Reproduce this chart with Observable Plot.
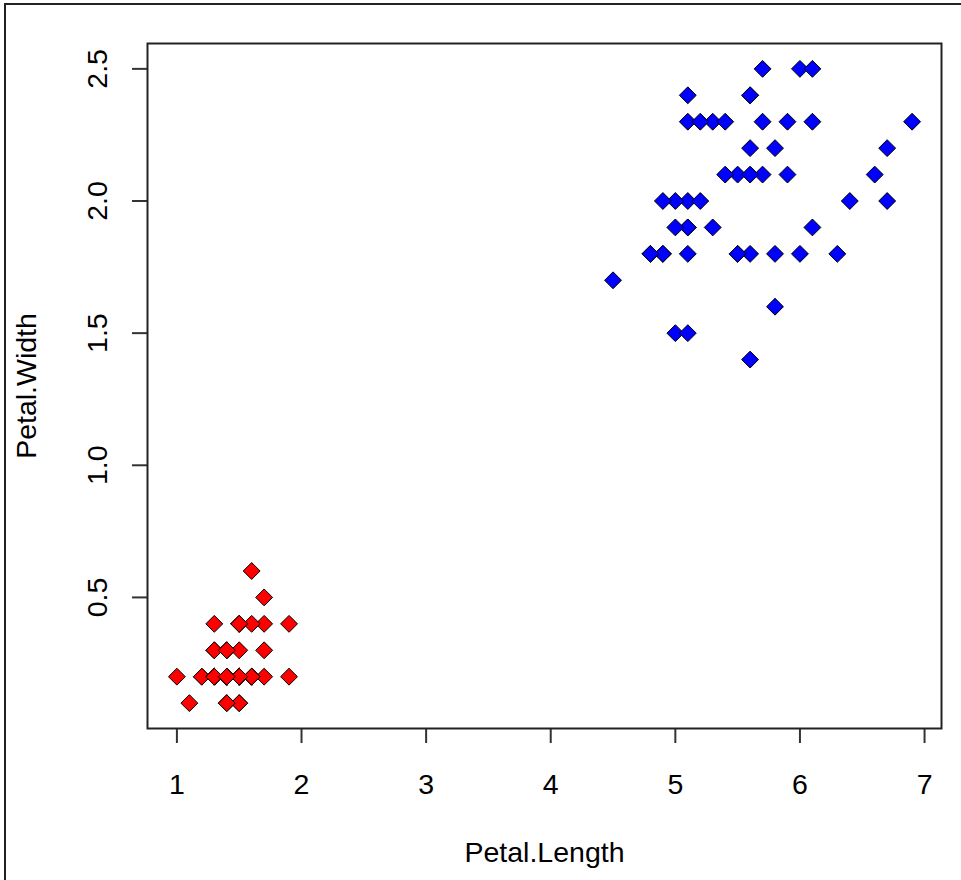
<!DOCTYPE html>
<html>
<head>
<meta charset="utf-8">
<script src="https://cdn.jsdelivr.net/npm/d3@7"></script>
<script src="https://cdn.jsdelivr.net/npm/@observablehq/plot@0.6"></script>
<style>
  html, body { margin: 0; padding: 0; background: #fff; overflow: hidden; }
  #wrap { position: relative; width: 961px; height: 880px; }
  #frame { position: absolute; left: 4px; top: 3px; width: 1000px; height: 1000px;
           border-left: 2px solid #222; border-top: 2px solid #222; pointer-events: none; }
</style>
</head>
<body>
<div id="wrap"><div id="frame"></div></div>
<script>
// Setosa (red) petal length / width
const setosaLength = [1.4,1.4,1.3,1.5,1.4,1.7,1.4,1.5,1.4,1.5,1.5,1.6,1.4,1.1,1.2,1.5,1.3,1.4,1.7,1.5,1.7,1.5,1.0,1.7,1.9,1.6,1.6,1.5,1.4,1.6,1.6,1.5,1.5,1.4,1.5,1.2,1.3,1.4,1.3,1.5,1.3,1.3,1.3,1.6,1.9,1.4,1.6,1.4,1.5,1.4];
const setosaWidth  = [0.2,0.2,0.2,0.2,0.2,0.4,0.3,0.2,0.2,0.1,0.2,0.2,0.1,0.1,0.2,0.4,0.4,0.3,0.3,0.3,0.2,0.4,0.2,0.5,0.2,0.2,0.4,0.2,0.2,0.2,0.2,0.4,0.1,0.2,0.2,0.2,0.2,0.1,0.2,0.2,0.3,0.3,0.2,0.6,0.4,0.3,0.2,0.2,0.2,0.2];
// Virginica (blue) petal length / width
const virginicaLength = [6.0,5.1,5.9,5.6,5.8,6.6,4.5,6.3,5.8,6.1,5.1,5.3,5.5,5.0,5.1,5.3,5.5,6.7,6.9,5.0,5.7,4.9,6.7,4.9,5.7,6.0,4.8,4.9,5.6,5.8,6.1,6.4,5.6,5.1,5.6,6.1,5.6,5.5,4.8,5.4,5.6,5.1,5.1,5.9,5.7,5.2,5.0,5.2,5.4,5.1];
const virginicaWidth  = [2.5,1.9,2.1,1.8,2.2,2.1,1.7,1.8,1.8,2.5,2.0,1.9,2.1,2.0,2.4,2.3,1.8,2.2,2.3,1.5,2.3,2.0,2.0,1.8,2.1,1.8,1.8,1.8,2.1,1.6,1.9,2.0,2.2,1.5,1.4,2.3,2.4,1.8,1.8,2.1,2.4,2.3,1.9,2.3,2.5,2.3,1.9,2.0,2.3,1.8];

const xTicks = [1, 2, 3, 4, 5, 6, 7];
const yTicks = [0.5, 1.0, 1.5, 2.0, 2.5];
const yTickLabels = ["0.5", "1.0", "1.5", "2.0", "2.5"];
const xLabel = "Petal.Length";
const yLabel = "Petal.Width";
const seriesColors = {setosa: "#ff0000", virginica: "#0000ff"};

const points = [
  ...setosaLength.map((v, i) => ({species: "setosa", x: v, y: setosaWidth[i]})),
  ...virginicaLength.map((v, i) => ({species: "virginica", x: v, y: virginicaWidth[i]}))
];

// R-style axis extents (4% padding on the data range)
const xExt = d3.extent(points, d => d.x);
const yExt = d3.extent(points, d => d.y);
const xPad = (xExt[1] - xExt[0]) * 0.04;
const yPad = (yExt[1] - yExt[0]) * 0.04;

const font = "'Liberation Sans', Arial, sans-serif";
const fs = 28.5;

const chart = Plot.plot({
  width: 961,
  height: 880,
  marginLeft: 147,
  marginRight: 20,
  marginTop: 43,
  marginBottom: 152,
  style: {fontFamily: font, background: "white", color: "#000"},
  x: {domain: [xExt[0] - xPad, xExt[1] + xPad]},
  y: {domain: [yExt[0] - yPad, yExt[1] + yPad]},
  color: {domain: Object.keys(seriesColors), range: Object.values(seriesColors)},
  marks: [
    Plot.axisX(xTicks, {anchor: "bottom", tickSize: 15, tickFormat: () => "", label: null, stroke: "#333", strokeWidth: 2}),
    Plot.axisY(yTicks, {anchor: "left", tickSize: 15, tickFormat: () => "", label: null, stroke: "#333", strokeWidth: 2}),
    Plot.text(xTicks, {x: d => d, text: d => String(d), frameAnchor: "bottom", textAnchor: "middle", lineAnchor: "bottom", dy: 65, fontSize: fs, fill: "#000"}),
    Plot.text(yTicks, {y: d => d, text: (d, i) => yTickLabels[i], frameAnchor: "left", textAnchor: "middle", lineAnchor: "bottom", rotate: -90, dx: -41, fontSize: fs, fill: "#000"}),
    Plot.text([xLabel], {text: d => d, frameAnchor: "bottom", textAnchor: "middle", lineAnchor: "bottom", dy: 133, fontSize: fs, fill: "#000"}),
    Plot.text([yLabel], {text: d => d, frameAnchor: "left", textAnchor: "middle", lineAnchor: "bottom", rotate: -90, dx: -112, fontSize: fs, fill: "#000"}),
    Plot.dot(points, {x: "x", y: "y", fill: "species", symbol: "diamond2", r: 7.6, stroke: "#000", strokeWidth: 1}),
    Plot.frame({stroke: "#222", strokeWidth: 2})
  ]
});
document.getElementById("wrap").appendChild(chart);
</script>
</body>
</html>
